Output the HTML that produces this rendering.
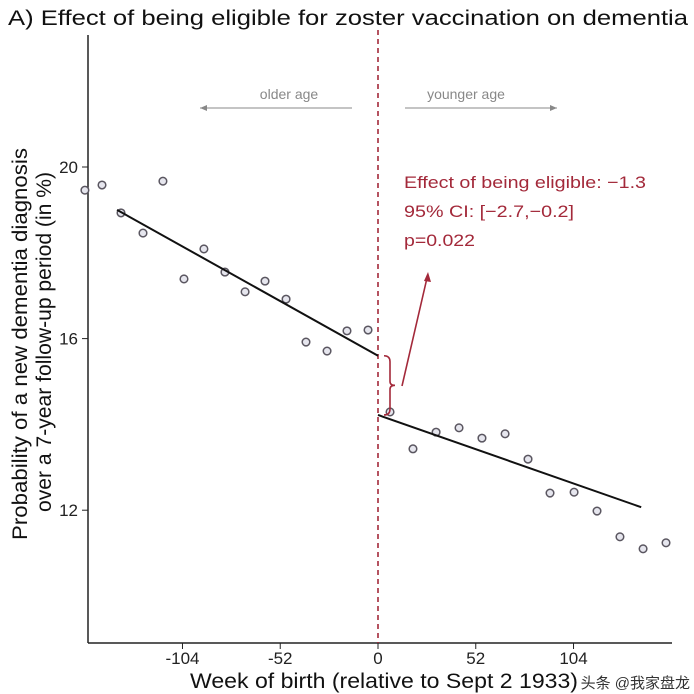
<!DOCTYPE html>
<html><head><meta charset="utf-8"><style>
body{margin:0;background:#fff;}
svg{display:block;font-family:"Liberation Sans","Noto Sans CJK SC",sans-serif;}
</style></head><body>
<svg id="chart" width="694" height="694">
<text x="8" y="25" font-size="21" textLength="680" lengthAdjust="spacingAndGlyphs" fill="#111">A) Effect of being eligible for zoster vaccination on dementia</text>
<g id="plot"></g>
</svg>
<script>
const weeks=[-155.9,-146.8,-136.7,-125,-114.4,-103.2,-92.6,-81.4,-70.7,-60.1,-48.9,-38.3,-27.1,-16.5,-5.3,6.4,18.6,30.9,43.1,55.3,67.6,79.8,91.5,104.3,116.5,128.7,141,153.2];
const probs=[19.46,19.58,18.93,18.46,19.67,17.39,18.09,17.55,17.09,17.34,16.92,15.92,15.71,16.18,16.20,14.29,13.43,13.82,13.92,13.68,13.78,13.19,12.40,12.42,11.98,11.38,11.10,11.24];
const xTicks=[-104,-52,0,52,104];
const yTicks=[12,16,20];
const leftFit=[[-138.8,19.0],[0,15.6]];
const rightFit=[[0,14.22],[140,12.07]];
const NS="http://www.w3.org/2000/svg";
const g=document.getElementById('plot');
const X=v=>378+v*1.88, Y=v=>167+(20-v)*42.9;
function mk(t,a){const e=document.createElementNS(NS,t);for(const k in a)e.setAttribute(k,a[k]);g.appendChild(e);return e;}
let e;
e=mk('line',{x1:88,y1:35,x2:88,y2:643,stroke:'#222','stroke-width':1.5});


e=mk('line',{x1:88,y1:643,x2:672,y2:643,stroke:'#222','stroke-width':1.5});


xTicks.forEach(t=>{
 e=mk('line',{x1:X(t),y1:643,x2:X(t),y2:649,stroke:'#222'});
 
 
 e=mk('text',{x:X(t),y:664,'font-size':17,'text-anchor':'middle',fill:'#222'});e.textContent=t;
 
 
});
yTicks.forEach(t=>{
 e=mk('line',{x1:82,y1:Y(t),x2:88,y2:Y(t),stroke:'#222'});
 
 
 e=mk('text',{x:78,y:Y(t)+6,'font-size':17,'text-anchor':'end',fill:'#222'});e.textContent=t;
 
 
});
e=mk('text',{x:190,y:688,'font-size':21,textLength:388,lengthAdjust:'spacingAndGlyphs',fill:'#111'});e.textContent='Week of birth (relative to Sept 2 1933)';


e=mk('text',{x:-540,y:0,'font-size':21,textLength:392,lengthAdjust:'spacingAndGlyphs',fill:'#111',transform:'translate(27,0) rotate(-90)'});e.textContent='Probability of a new dementia diagnosis';


e=mk('text',{x:-512,y:0,'font-size':21,textLength:340,lengthAdjust:'spacingAndGlyphs',fill:'#111',transform:'translate(51,0) rotate(-90)'});e.textContent='over a 7-year follow-up period (in %)';


e=mk('line',{x1:378,y1:30,x2:378,y2:643,stroke:'#a3293a','stroke-width':1.6,'stroke-dasharray':'5,4'});


e=mk('line',{x1:352,y1:108,x2:200,y2:108,stroke:'#888'});


mk('path',{d:'M200 108 l7 -3 v6 z',fill:'#888'});
e=mk('line',{x1:405,y1:108,x2:557,y2:108,stroke:'#888'});


mk('path',{d:'M557 108 l-7 -3 v6 z',fill:'#888'});
e=mk('text',{x:289,y:99,'font-size':14,'text-anchor':'middle',fill:'#888'});e.textContent='older age';


e=mk('text',{x:466,y:99,'font-size':14,'text-anchor':'middle',fill:'#888'});e.textContent='younger age';


weeks.forEach((w,i)=>{
 e=mk('circle',{cx:X(w),cy:Y(probs[i]),r:3.8,fill:'#e6e6ee',stroke:'#5a5660','stroke-width':1.5});
 
 
});
[leftFit,rightFit].forEach((f,i)=>{
 e=mk('line',{x1:X(f[0][0]),y1:Y(f[0][1]),x2:X(f[1][0]),y2:Y(f[1][1]),stroke:'#111','stroke-width':2});
 
 
});
const b1=Y(leftFit[1][1]),b2=Y(rightFit[0][1]),bm=(b1+b2)/2;
e=mk('path',{d:`M384 ${b1} q6 0 6 6 v${bm-b1-10} q0 4 5 4 q-5 0 -5 4 v${b2-bm-10} q0 6 -6 6`,fill:'none',stroke:'#a3293a','stroke-width':1.6});


e=mk('line',{x1:402,y1:386,x2:427,y2:278,stroke:'#a3293a','stroke-width':1.6});


mk('path',{d:'M428 272 l-4 9 l7 1 z',fill:'#a3293a'});
const ann=[['Effect of being eligible: \u22121.3',242],['95% CI: [\u22122.7,\u22120.2]',170],['p=0.022',71]];
ann.forEach((s,i)=>{
 e=mk('text',{x:404,y:188+i*29,'font-size':17,textLength:s[1],lengthAdjust:'spacingAndGlyphs',fill:'#a3293a'});e.textContent=s[0];
 
 
});
e=mk('text',{x:690,y:688,'font-size':15,'text-anchor':'end',fill:'#333'});e.textContent='头条 @我家盘龙';


</script>
</body></html>
